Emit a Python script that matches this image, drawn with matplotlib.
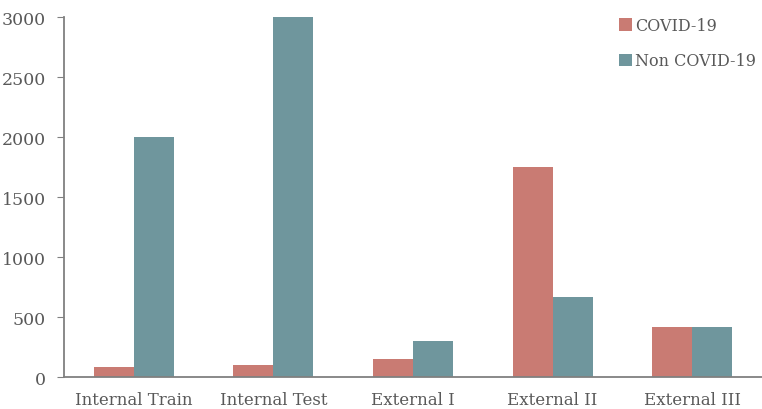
import numpy as np
import matplotlib.pyplot as plt

# data
categories = ['Internal Train', 'Internal Test', 'External I', 'External II', 'External III']
covid = [80, 100, 150, 1750, 420]
non_covid = [2000, 3000, 300, 670, 420]

red = '#C97B73'
teal = '#6F969D'
grey = '#595959'

plt.rcParams['font.family'] = ['DejaVu Serif']

fig = plt.figure(figsize=(7.62, 4.10), dpi=100)
ax = fig.add_axes([0.084, 0.078, 0.916, 0.878])

x = np.arange(len(categories))
w = 0.286
ax.bar(x - w / 2, covid, w, color=red, label='COVID-19')
ax.bar(x + w / 2, non_covid, w, color=teal, label='Non COVID-19')

ax.set_xlim(-0.5, len(categories) - 0.5)
ax.set_ylim(0, 3000)
ax.set_yticks(np.arange(0, 3001, 500))
ax.set_xticks(x)
ax.set_xticklabels(categories)

for s in ['top', 'right']:
    ax.spines[s].set_visible(False)
for s in ['left', 'bottom']:
    ax.spines[s].set_color('#808080')
    ax.spines[s].set_linewidth(1.3)
ax.tick_params(axis='y', direction='out', length=5, color='#808080', labelsize=12.5, labelcolor=grey, pad=8)
ax.tick_params(axis='x', length=0, labelsize=12, labelcolor=grey, pad=10)

leg = ax.legend(loc='upper right', bbox_to_anchor=(1.012, 1.04), frameon=False, fontsize=11.5,
                handlelength=0.8, handleheight=0.8, handletextpad=0.2, labelspacing=1.15)
for t in leg.get_texts():
    t.set_color(grey)

fig.savefig('out.png', dpi=100)
